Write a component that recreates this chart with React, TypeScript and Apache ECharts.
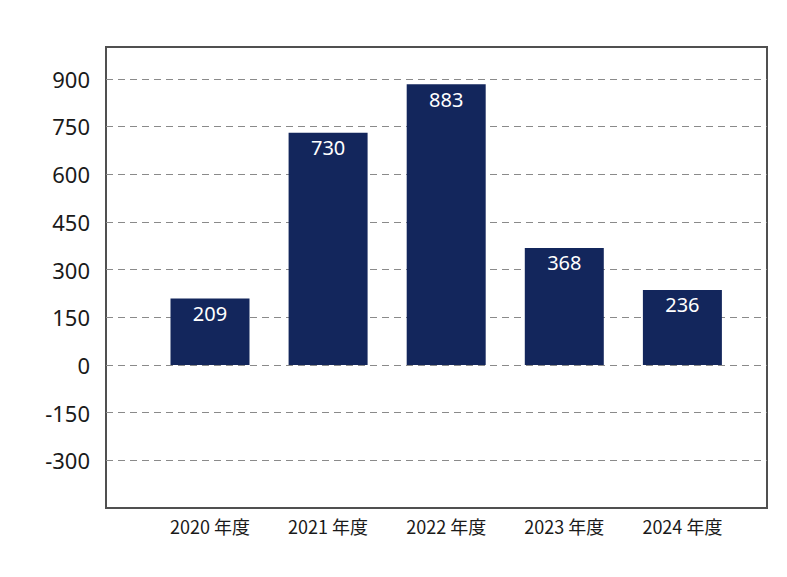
import React, { useEffect, useRef } from "react";
import * as echarts from "echarts";

const categories = ["2020 年度", "2021 年度", "2022 年度", "2023 年度", "2024 年度"];
const values = [209, 730, 883, 368, 236];
const yTicks = [-300, -150, 0, 150, 300, 450, 600, 750, 900];

export default function App() {
  const ref = useRef<HTMLDivElement>(null);
  useEffect(() => {
    if (!ref.current) return;
    const chart = echarts.init(ref.current, null, { renderer: "svg" });
    chart.setOption({
      animation: false,
      backgroundColor: "#ffffff",
      grid: {
        left: 106,
        top: 47,
        right: 20,
        bottom: 69,
        show: true,
        borderColor: "#505050",
        borderWidth: 2,
        backgroundColor: "transparent",
      },
      xAxis: {
        type: "value",
        min: -0.8806,
        max: 4.7164,
        axisLine: { show: false },
        axisTick: { show: false },
        splitLine: { show: false },
        axisLabel: {
          customValues: categories.map((_, i) => i),
          formatter: (v: number) => categories[Math.round(v)] ?? "",
          fontFamily: "'Noto Sans CJK JP', 'Noto Sans', sans-serif",
          fontSize: 18,
          color: "#1a1a1a",
          margin: 9,
        },
      },
      yAxis: {
        type: "value",
        min: -450,
        max: 1000,
        interval: 150,
        axisLine: { show: false },
        axisTick: { show: false },
        axisLabel: {
          showMinLabel: false,
          showMaxLabel: false,
          formatter: (v: number) => (yTicks.includes(v) ? String(v) : ""),
          fontFamily: "'Noto Sans', sans-serif",
          fontSize: 22,
          color: "#1a1a1a",
          margin: 16,
        },
        splitLine: {
          show: true,
          showMinLine: false,
          showMaxLine: false,
          lineStyle: { color: "#8a8a8a", width: 1, type: [7, 5] },
        },
      },
      series: [
        {
          type: "bar",
          data: values.map((v, i) => [i, v]),
          barWidth: 79,
          itemStyle: { color: "#13265c" },
          label: {
            show: true,
            position: "insideTop",
            distance: 5,
            color: "#ffffff",
            fontSize: 20,
            fontFamily: "'Noto Sans', sans-serif",
            formatter: (p: any) => String(p.value[1]),
          },
        },
      ],
    });
    return () => chart.dispose();
  }, []);
  return (
    <div
      ref={ref}
      style={{ position: "fixed", left: 0, top: 0, width: 787, height: 577, background: "#fff" }}
    />
  );
}
